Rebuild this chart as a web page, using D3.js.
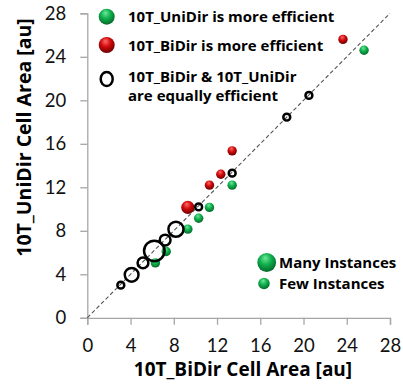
<!DOCTYPE html>
<html>
<head>
<meta charset="utf-8">
<script src="https://cdn.jsdelivr.net/npm/d3@7"></script>
<style>
  body { margin: 0; background: #fff; }
  text { font-family: "Open Sans", Lato, sans-serif; }
</style>
</head>
<body>
<div id="chart"></div>
<script>
// Data
var ticks = [0, 4, 8, 12, 16, 20, 24, 28];

// equally efficient (open circles): [bidir, unidir, instances]
var equalPts = [
  [3.1, 3.0, 2], [4.1, 3.95, 6], [5.15, 5.05, 4], [6.2, 6.15, 12],
  [7.2, 7.15, 4], [8.2, 8.15, 7], [10.3, 10.2, 2], [13.4, 13.3, 2],
  [18.45, 18.45, 2], [20.5, 20.45, 2]
];
// UniDir more efficient (green)
var uniPts = [
  [6.3, 5.05, 2], [7.3, 6.1, 2], [9.3, 8.15, 2], [10.3, 9.15, 2],
  [11.3, 10.15, 2], [13.4, 12.2, 2], [25.6, 24.6, 2]
];
// BiDir more efficient (red)
var biPts = [
  [9.3, 10.15, 4], [11.3, 12.2, 2], [12.35, 13.2, 2], [13.4, 15.35, 2],
  [23.65, 25.6, 2]
];

var legendTop = [
  "10T_UniDir is more efficient",
  "10T_BiDir is more efficient",
  ["10T_BiDir & 10T_UniDir", "are equally efficient"]
];
var legendSize = ["Many Instances", "Few Instances"];
var legendSizeN = [8, 3];

// Configuration
var width = 403;
var height = 387;
var mLeft = 87.3, mTop = 13.3, mRight = 390, mBottom = 317.8;

var svg = d3.select("#chart").append("svg")
  .attr("width", width)
  .attr("height", height);

var defs = svg.append("defs");

// sphere gradients
function sphere(id, light, mid, dark) {
  var g = defs.append("radialGradient")
    .attr("id", id)
    .attr("cx", "45%").attr("cy", "38%").attr("r", "62%")
    .attr("fx", "42%").attr("fy", "25%");
  g.append("stop").attr("offset", "0%").attr("stop-color", light);
  g.append("stop").attr("offset", "50%").attr("stop-color", mid);
  g.append("stop").attr("offset", "100%").attr("stop-color", dark);
}
sphere("green", "#6ee89a", "#0fb04c", "#05692a");
sphere("red", "#ff6a6a", "#d00a0a", "#6e0000");

var x = d3.scaleLinear().domain([0, 28]).range([mLeft, mRight]);
var y = d3.scaleLinear().domain([0, 28]).range([mBottom, mTop]);
var r = d3.scaleSqrt().domain([0, 10]).range([0, 10.5]);

// axes
var xAxis = svg.append("g")
  .attr("transform", "translate(0," + mBottom + ")")
  .call(d3.axisBottom(x).tickValues(ticks).tickSize(7).tickPadding(14));
var yAxis = svg.append("g")
  .attr("transform", "translate(" + mLeft + ",0)")
  .call(d3.axisLeft(y).tickValues(ticks).tickSize(7).tickPadding(14));

[xAxis, yAxis].forEach(function(a) {
  a.select(".domain").attr("stroke", "#a6a6a6").attr("stroke-width", 1.3);
  a.selectAll(".tick line").attr("stroke", "#a6a6a6").attr("stroke-width", 1.3);
  a.selectAll(".tick text")
    .attr("fill", "#111")
    .style("font-family", "Lato, 'Open Sans', sans-serif")
    .style("font-size", "18.5px");
});

// axis titles
svg.append("text")
  .attr("x", 243)
  .attr("y", 376)
  .attr("text-anchor", "middle")
  .style("font-size", "19px")
  .style("font-weight", "bold")
  .text("10T_BiDir Cell Area [au]");

svg.append("text")
  .attr("transform", "translate(31,137.5) rotate(-90)")
  .attr("text-anchor", "middle")
  .style("font-size", "19.5px")
  .style("font-weight", "bold")
  .text("10T_UniDir Cell Area [au]");

// diagonal
svg.append("line")
  .attr("x1", x(0)).attr("y1", y(0))
  .attr("x2", x(28)).attr("y2", y(28))
  .attr("stroke", "#555")
  .attr("stroke-width", 1.1)
  .attr("stroke-dasharray", "4,2.5");

// points
svg.selectAll(".uni").data(uniPts).enter().append("circle")
  .attr("cx", function(d) { return x(d[0]); })
  .attr("cy", function(d) { return y(d[1]); })
  .attr("r", function(d) { return r(d[2]); })
  .attr("fill", "url(#green)");

svg.selectAll(".bi").data(biPts).enter().append("circle")
  .attr("cx", function(d) { return x(d[0]); })
  .attr("cy", function(d) { return y(d[1]); })
  .attr("r", function(d) { return r(d[2]); })
  .attr("fill", "url(#red)");

// open circles: stroke kept inside the bubble size
svg.selectAll(".eq").data(equalPts).enter().append("circle")
  .attr("cx", function(d) { return x(d[0]); })
  .attr("cy", function(d) { return y(d[1]); })
  .attr("r", function(d) { return r(d[2]) - 1.25; })
  .attr("fill", "none")
  .attr("stroke", "#000")
  .attr("stroke-width", 2.5);

// top legend
var lg = svg.append("g");
lg.append("circle").attr("cx", 106.7).attr("cy", 16.7).attr("r", 8).attr("fill", "url(#green)");
lg.append("circle").attr("cx", 106.7).attr("cy", 45).attr("r", 8).attr("fill", "url(#red)");
lg.append("ellipse").attr("cx", 106.7).attr("cy", 79).attr("rx", 6).attr("ry", 7)
  .attr("fill", "none").attr("stroke", "#000").attr("stroke-width", 2.5);

var ly = [21.7, 50.5, 81.5];
legendTop.forEach(function(t, i) {
  var txt = lg.append("text")
    .attr("x", 128)
    .attr("y", ly[i])
    .style("font-size", "15px")
    .style("font-weight", "bold");
  if (Array.isArray(t)) {
    txt.append("tspan").attr("x", 128).text(t[0]);
    txt.append("tspan").attr("x", 128).attr("dy", 19.5).text(t[1]);
  } else {
    txt.text(t);
  }
});

// size legend
var sl = svg.append("g");
var sx = [266.7, 264], sy = [262.5, 283.5], ty = [267.5, 288.5];
legendSize.forEach(function(t, i) {
  sl.append("circle")
    .attr("cx", sx[i]).attr("cy", sy[i])
    .attr("r", r(legendSizeN[i]))
    .attr("fill", "url(#green)");
  sl.append("text")
    .attr("x", 279)
    .attr("y", ty[i])
    .style("font-size", "15px")
    .style("font-weight", "bold")
    .text(t);
});
</script>
</body>
</html>
